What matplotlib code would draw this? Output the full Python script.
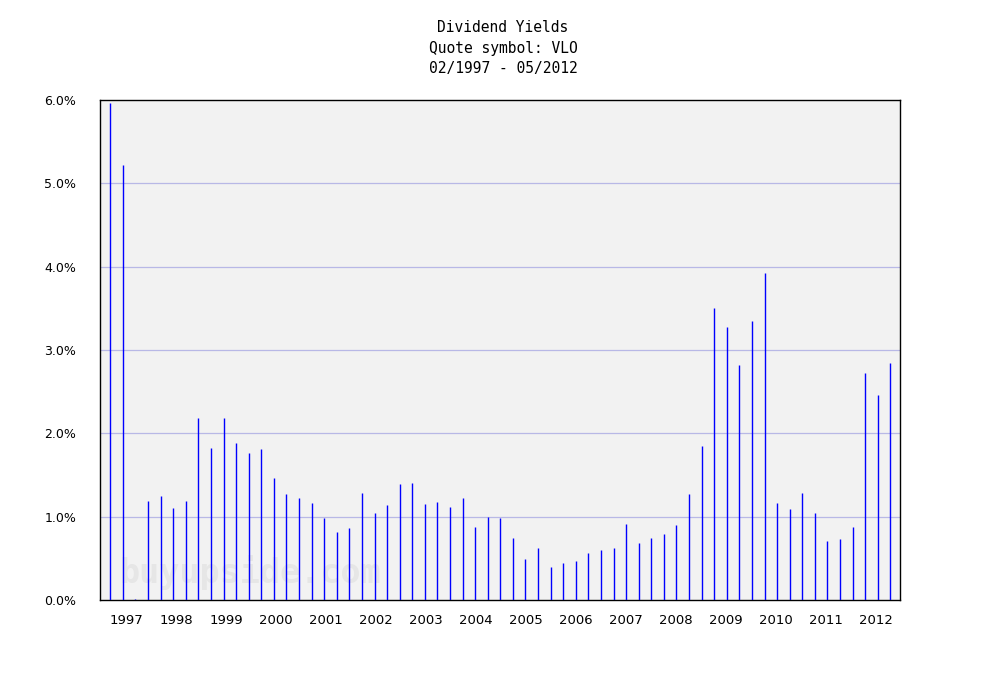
import numpy as np
import matplotlib.pyplot as plt

# quarterly dividend yields (%), Feb 1997 onwards
yields = [5.97, 5.22, 0.01, 1.19, 1.25, 1.11, 1.19, 2.18, 1.83, 2.18,
          1.89, 1.77, 1.81, 1.46, 1.27, 1.23, 1.16, 0.99, 0.82, 0.87,
          1.29, 1.05, 1.14, 1.39, 1.40, 1.15, 1.18, 1.12, 1.23, 0.88,
          1.00, 0.99, 0.75, 0.49, 0.63, 0.40, 0.45, 0.47, 0.56, 0.60,
          0.63, 0.91, 0.69, 0.75, 0.79, 0.90, 1.27, 1.85, 3.50, 3.28,
          2.82, 3.35, 3.92, 1.17, 1.09, 1.29, 1.04, 0.71, 0.73, 0.88,
          2.73, 2.46, 2.84]
years = ['1997', '1998', '1999', '2000', '2001', '2002', '2003', '2004',
         '2005', '2006', '2007', '2008', '2009', '2010', '2011', '2012']
yticks = [0, 1, 2, 3, 4, 5, 6]

x = np.arange(len(yields))

fig = plt.figure(figsize=(10, 7), dpi=100)
ax = fig.add_axes([0.1, 1 - 600 / 700, 0.8, 500 / 700])
ax.set_facecolor('#f2f2f2')

for v in yticks[1:-1]:
    ax.axhline(v, color='#b8b8e6', lw=0.9, zorder=1)

ax.vlines(x, 0, yields, colors='#0000ff', lw=1.0, zorder=3)

# watermark
ax.text(0.025, 0.034, 'buyupside.com', transform=ax.transAxes, fontsize=24,
        family='DejaVu Sans Mono', fontweight='bold', color='#e6e6e6',
        ha='left', va='baseline', zorder=2)

ax.set_xlim(-0.82, 62.77)
ax.set_ylim(0, 6)
ax.set_yticks(yticks)
ax.set_yticklabels(['%.1f%%' % v for v in yticks], fontsize=9)
ax.set_xticks(1.25 + 3.975 * np.arange(len(years)))
ax.set_xticklabels(years, fontsize=9.5)
ax.tick_params(length=0)
ax.tick_params(axis='y', pad=17)
ax.tick_params(axis='x', pad=10)
for s in ax.spines.values():
    s.set_linewidth(1.0)

title_lines = ['Dividend Yields', 'Quote symbol: VLO', '02/1997 - 05/2012']
for k, line in enumerate(title_lines):
    fig.text(0.503, 1 - (28 + 20 * k) / 700, line, ha='center', va='center',
             family='DejaVu Sans Mono', fontsize=10.5)

fig.savefig('out.png', dpi=100)
